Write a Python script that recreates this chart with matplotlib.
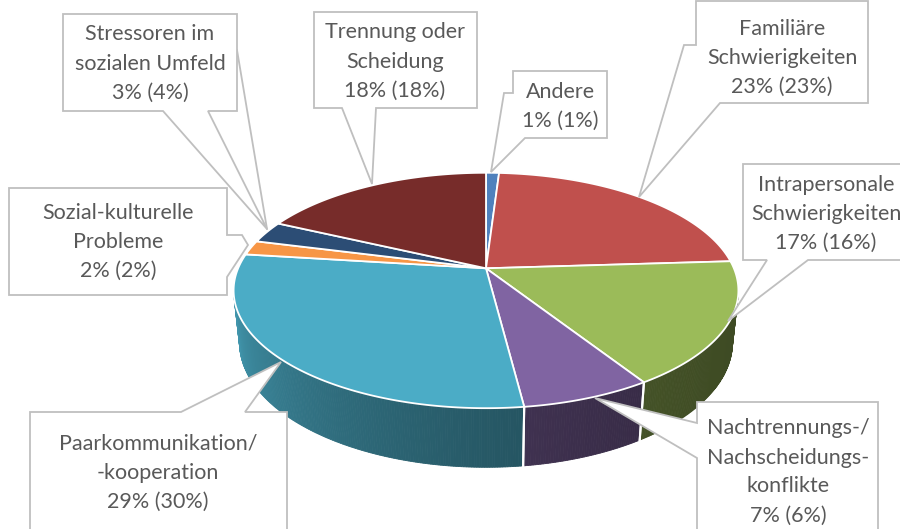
import numpy as np
import matplotlib.pyplot as plt
from matplotlib.patches import Polygon

# data
categories = ['Andere', 'Familiäre Schwierigkeiten', 'Intrapersonale Schwierigkeiten',
              'Nachtrennungs-/Nachscheidungskonflikte', 'Paarkommunikation/-kooperation',
              'Sozial-kulturelle Probleme', 'Stressoren im sozialen Umfeld',
              'Trennung oder Scheidung']
values = [1, 23, 17, 7, 29, 2, 3, 18]
values_prev = [1, 23, 16, 6, 30, 2, 4, 18]
label_lines = [['Andere'], ['Familiäre', 'Schwierigkeiten'],
               ['Intrapersonale', 'Schwierigkeiten'],
               ['Nachtrennungs-/', 'Nachscheidungs-', 'konflikte'],
               ['Paarkommunikation/', '-kooperation'],
               ['Sozial-kulturelle', 'Probleme'],
               ['Stressoren im', 'sozialen Umfeld'],
               ['Trennung oder', 'Scheidung']]
colors = ['#4f81bd', '#c0504d', '#9bbb59', '#8064a2', '#4bacc6', '#f79646', '#2c4d75', '#772c2a']

# 3d pie geometry (pixels)
cx, cy = 486, 268.3
F, dist = 1170.0, 4.72
sa = 0.458
ca = np.sqrt(1 - sa**2)
H = 0.2387


def proj(theta, z):
    t = np.radians(theta)
    X, Y = np.sin(t), np.cos(t)
    den = dist + Y * ca - z * sa
    return cx + F * X / den, cy - F * (Y * sa + z * ca) / den


def shade(color, f):
    rgb = np.array(plt.matplotlib.colors.to_rgb(color))
    return tuple(np.clip(rgb * f, 0, 1))


fig = plt.figure(figsize=(9, 5.29), dpi=100)
ax = fig.add_axes([0, 0, 1, 1])
ax.set_xlim(0, 900)
ax.set_ylim(529, 0)
ax.axis('off')

total = sum(values)
edges = np.concatenate([[0], np.cumsum(values)]) / total * 360
# visible part of the outer wall
lim = np.degrees(np.arccos(-1 / (dist * ca)))
vis0, vis1 = lim, 360 - lim

for i, c in enumerate(colors):
    a0, a1 = max(edges[i], vis0), min(edges[i + 1], vis1)
    if a1 <= a0:
        continue
    th = np.linspace(a0, a1, int((a1 - a0) * 2) + 2)
    for j in range(len(th) - 1):
        tm = 0.5 * (th[j] + th[j + 1])
        u = (tm - vis0) / (vis1 - vis0)
        col = shade(c, 0.40 + 0.47 * u**2)
        pts = [proj(th[j], 0), proj(th[j + 1], 0), proj(th[j + 1], -H), proj(th[j], -H)]
        ax.add_patch(Polygon(pts, closed=True, facecolor=col, edgecolor=col, lw=0.6, zorder=1))
    for a in (edges[i], edges[i + 1]):
        if vis0 < a < vis1:
            p, q = proj(a, 0), proj(a, -H)
            ax.plot([p[0], q[0]], [p[1], q[1]], color='white', lw=1.5, zorder=2)

for i, c in enumerate(colors):
    th = np.linspace(edges[i], edges[i + 1], max(int(values[i] * 8), 3))
    pts = [(cx, cy)] + [proj(t, 0) for t in th]
    ax.add_patch(Polygon(pts, closed=True, facecolor=c, edgecolor='white', lw=1.3,
                         joinstyle='round', zorder=3))

# callouts: outline, text position
callouts = {
    'Andere': ([(513, 71), (607, 71), (607, 138), (525, 138), (491, 172), (504, 93), (513, 93)], (560, 106.5)),
    'Familiäre Schwierigkeiten': ([(696, 1), (868, 1), (868, 103), (720, 103), (639, 197), (684, 45), (696, 45)], (782, 58)),
    'Intrapersonale Schwierigkeiten': ([(743, 164), (915, 164), (915, 260), (808, 260), (728, 321), (767, 260), (743, 260)], (826, 214)),
    'Nachtrennungs-/Nachscheidungskonflikte': ([(697, 402), (878, 402), (878, 545), (697, 545), (697, 458), (595, 398), (697, 423)], (788, 472)),
    'Paarkommunikation/-kooperation': ([(30, 412), (181, 412), (281, 362), (245, 412), (287, 412), (287, 545), (30, 545)], (158, 473)),
    'Sozial-kulturelle Probleme': ([(9, 188), (227, 188), (227, 235), (242, 235), (248, 245), (227, 277), (227, 295), (9, 295)], (118, 242)),
    'Stressoren im sozialen Umfeld': ([(63, 14), (237, 14), (237, 111), (208, 111), (267, 229), (163, 111), (63, 111)], (150, 63.5)),
    'Trennung oder Scheidung': ([(314, 12), (477, 12), (477, 108), (376, 108), (372, 184), (342, 108), (314, 108)], (395, 61.5)),
}

ax.plot([237, 267], [50, 229], color='#bfbfbf', lw=1.3, zorder=4)

for i, name in enumerate(categories):
    outline, (tx, ty) = callouts[name]
    ax.add_patch(Polygon(outline, closed=True, facecolor='white', edgecolor='#bfbfbf',
                         lw=1.3, zorder=5))
    lines = label_lines[i] + [f'{values[i]}% ({values_prev[i]}%)']
    n = len(lines)
    for k, s in enumerate(lines):
        ax.text(tx, ty + (k - (n - 1) / 2) * 29, s, ha='center', va='center',
                fontsize=15.5, color='#595959', family='Lato', zorder=6)

fig.savefig('out.png', dpi=100)
